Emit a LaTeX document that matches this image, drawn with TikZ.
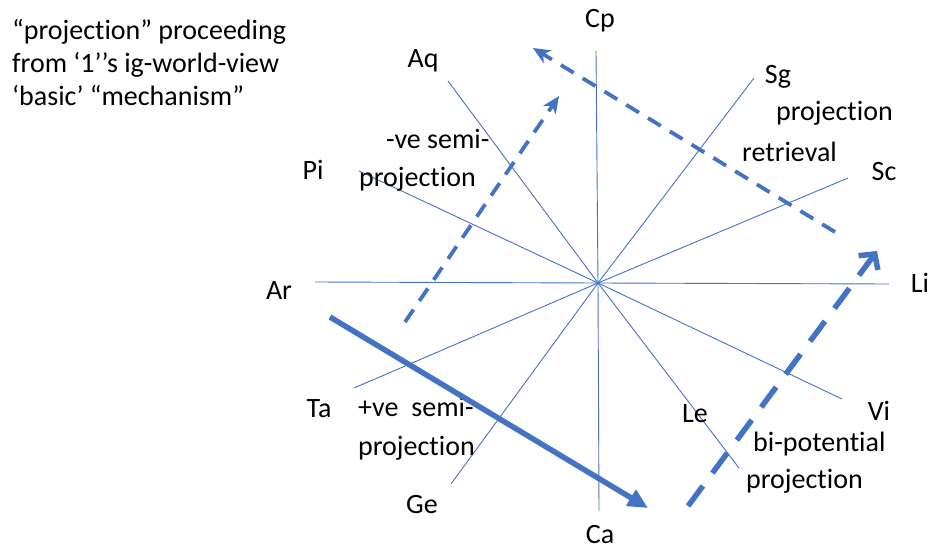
\documentclass[tikz,border=0pt]{standalone}
\usepackage{fontspec}
\setmainfont{Carlito}[Ligatures=NoCommon]
\usetikzlibrary{arrows.meta}
\definecolor{office}{RGB}{68,114,196}
\begin{document}
\begin{tikzpicture}[x=1pt,y=-1pt,
  ray/.style={draw=office,line width=0.9pt},
  lbl/.style={inner sep=0pt,anchor=base,font=\fontsize{28}{33}\selectfont},
  txt/.style={inner sep=0pt,anchor=base west,font=\fontsize{28}{33}\selectfont},
  dasharrow/.style={draw=office,line width=3.8pt,dash pattern=on 15pt off 10.5pt,
    -{Stealth[length=17pt,width=15pt,inset=5pt]}},
  longdasharrow/.style={draw=office,line width=5.5pt,dash pattern=on 25pt off 16pt,
    -{Straight Barb[length=11pt,width=24pt]}},
  thickarrow/.style={draw=office,line width=5.5pt,-{Triangle[length=20pt,width=18pt]}}]
\useasboundingbox (0,0) rectangle (932,551);
% centre and ray ends
\coordinate (O) at (598,283);
\coordinate (eCp) at (596,51);
\coordinate (eCa) at (599,511);
\coordinate (eLi) at (889,284);
\coordinate (eAr) at (315,282);
\coordinate (eAq) at (448,81);
\coordinate (eSg) at (754,78);
\coordinate (ePi) at (359,171);
\coordinate (eSc) at (848,178);
\coordinate (eTa) at (354,388);
\coordinate (eVi) at (842,399);
\coordinate (eGe) at (451,484);
\coordinate (eLe) at (739,468);
\foreach \e in {Cp,Ca,Li,Ar,Aq,Sg,Pi,Sc,Ta,Vi,Ge,Le}
  \draw[ray] (O) -- (e\e);
% labels
\node[lbl] (Cp) at (600,28) {Cp};
\node[lbl] (Aq) at (423,67) {Aq};
\node[lbl] (Sg) at (778,84) {Sg};
\node[lbl] (Sc) at (884,180) {Sc};
\node[lbl] (Pi) at (313,179) {Pi};
\node[lbl] (Ar) at (279,299) {Ar};
\node[lbl] (Li) at (920,292) {Li};
\node[lbl] (Ta) at (319,417) {Ta};
\node[lbl] (Vi) at (879,420) {Vi};
\node[lbl] (Le) at (695,422) {Le};
\node[lbl] (Ge) at (422,513) {Ge};
\node[lbl] (Ca) at (600,543) {Ca};
% text blocks
\node[txt] (t1) at (12,40) {“projection” proceeding};
\node[txt] (t2) at (12,73) {from ‘1’’s ig-world-view};
\node[txt] (t3) at (12,106) {‘basic’ “mechanism”};
\node[txt] (neg1) at (386,148) {-ve semi-};
\node[txt] (neg2) at (359,186) {projection};
\node[txt] (ret1) at (776,121) {projection};
\node[txt] (ret2) at (742,161) {retrieval};
\node[txt] (pos1) at (358,416) {+ve\hspace{13pt}semi-};
\node[txt] (pos2) at (358,455) {projection};
\node[txt] (bi1) at (753,451) {bi-potential};
\node[txt] (bi2) at (746,488) {projection};
% arrows
\coordinate (thS) at (330,317);
\coordinate (thE) at (648,508);
\coordinate (ngS) at (405,322);
\coordinate (ngE) at (559,96);
\coordinate (rtS) at (835,232);
\coordinate (rtE) at (533,48);
\coordinate (biS) at (688,506);
\coordinate (biE) at (877,251);
\draw[thickarrow] (thS) -- (thE);
\draw[dasharrow] (ngS) -- (ngE);
\draw[dasharrow] (rtS) -- (rtE);
\draw[longdasharrow] (biS) -- (biE);
\end{tikzpicture}
\end{document}
